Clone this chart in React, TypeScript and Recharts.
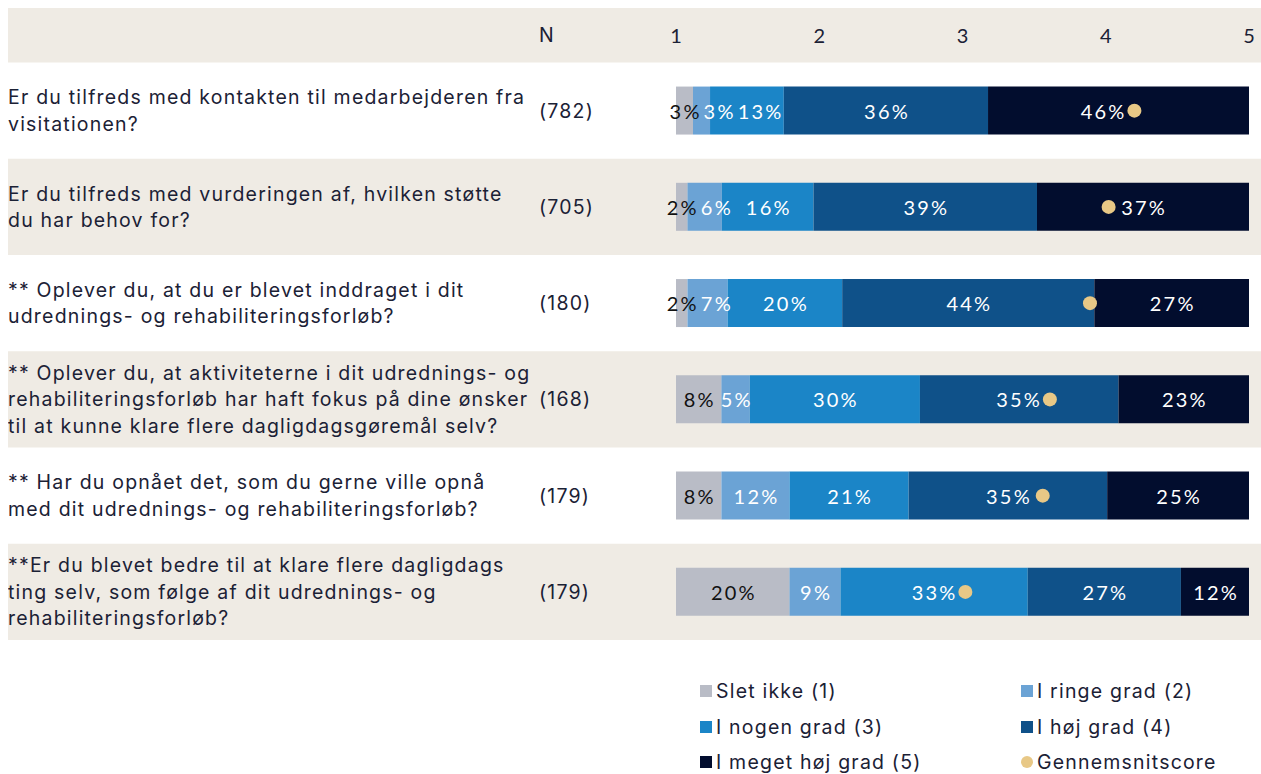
import React, { useLayoutEffect } from 'react';
import { ComposedChart, Bar, Scatter, XAxis, YAxis, Legend, LabelList } from 'recharts';

// ---------- data ----------
const questions = [
  'Er du tilfreds med kontakten til medarbejderen fra\nvisitationen?',
  'Er du tilfreds med vurderingen af, hvilken støtte\ndu har behov for?',
  '** Oplever du, at du er blevet inddraget i dit\nudrednings- og rehabiliteringsforløb?',
  '** Oplever du, at aktiviteterne i dit udrednings- og\nrehabiliteringsforløb har haft fokus på dine ønsker\ntil at kunne klare flere dagligdagsgøremål selv?',
  '** Har du opnået det, som du gerne ville opnå\nmed dit udrednings- og rehabiliteringsforløb?',
  '**Er du blevet bedre til at klare flere dagligdags\nting selv, som følge af dit udrednings- og\nrehabiliteringsforløb?',
];
const respondents = [782, 705, 180, 168, 179, 179];
const sletIkke = [3, 2, 2, 8, 8, 20];
const ringeGrad = [3, 6, 7, 5, 12, 9];
const nogenGrad = [13, 16, 20, 30, 21, 33];
const hoejGrad = [36, 39, 44, 35, 35, 27];
const megetHoejGrad = [46, 37, 27, 23, 25, 12];
const avgScore = [4.2, 4.02, 3.89, 3.61, 3.56, 3.02];
const scoreTicks = [1, 2, 3, 4, 5];
const seriesNames = ['Slet ikke (1)', 'I ringe grad (2)', 'I nogen grad (3)', 'I høj grad (4)', 'I meget høj grad (5)'];
const avgName = 'Gennemsnitscore';
const nHeader = 'N';

// ---------- styling ----------
const seriesKeys = ['s1', 's2', 's3', 's4', 's5'];
const seriesColors = ['#B9BCC6', '#6BA3D5', '#1B85C7', '#0F5189', '#020D2E'];
const labelColors = ['#111111', '#FFFFFF', '#FFFFFF', '#FFFFFF', '#FFFFFF'];
const DOT_COLOR = '#E8C886';
const DOT_R = 7;
const BEIGE = '#EFEBE4';
const TEXT = '#1B2135';
const TEXT_FONT = 'Inter, Roboto, sans-serif';
const TEXT_SIZE = 19.5;
const TEXT_SPACING = 1.2;
const NUM_FONT = 'Lato, sans-serif';
const NUM_SIZE = 20;
const NUM_SPACING = 2.2;

const W = 1253;
const H = 766;
const HEADER_H = 54.5;
const LEGEND_H = 134;
const Y_W = 668;
const MARGIN = { top: 0, right: 12, left: 0, bottom: 0 };
const BAND = (H - HEADER_H - LEGEND_H) / questions.length;
const N_X = 531;
const LINE_H = 26.5;
const SCORE_MIN = scoreTicks[0];
const SCORE_MAX = scoreTicks[scoreTicks.length - 1];

const rows = questions.map((q, i) => ({
  q,
  n: respondents[i],
  s1: sletIkke[i],
  s2: ringeGrad[i],
  s3: nogenGrad[i],
  s4: hoejGrad[i],
  s5: megetHoejGrad[i],
  avg: avgScore[i],
}));

let measureCtx: CanvasRenderingContext2D | null = null;
function textWidth(t: string) {
  if (!measureCtx) measureCtx = document.createElement('canvas').getContext('2d');
  if (!measureCtx) return t.length * 12;
  measureCtx.font = `${NUM_SIZE}px ${NUM_FONT}`;
  return measureCtx.measureText(t).width + NUM_SPACING * t.length;
}

function makeLabel(si: number) {
  return (props: any) => {
    const vb = props.viewBox ?? {};
    const x = Number(vb.x ?? props.x);
    const y = Number(vb.y ?? props.y);
    const w = Number(vb.width ?? props.width);
    const h = Number(vb.height ?? props.height);
    let idx = props.index;
    if (idx == null) idx = rows.findIndex((r) => r === props.payload);
    const row: any = rows[idx];
    if (!row || !isFinite(x) || !isFinite(w)) return null;
    const vals = seriesKeys.map((k) => row[k] as number);
    const total = vals.reduce((a, b) => a + b, 0);
    const v = vals[si];
    if (!v) return null;
    const full = (w * total) / v;
    const before = vals.slice(0, si).reduce((a, b) => a + b, 0);
    const start = x - (before / total) * full;
    const dotX = start + ((row.avg - SCORE_MIN) / (SCORE_MAX - SCORE_MIN)) * full;
    // collision-avoiding label centres: pushed right of previous label, away from the dot
    let cum = 0;
    let prevRight = -Infinity;
    let myCenter = x + w / 2;
    vals.forEach((val, k) => {
      const segStart = start + (cum / total) * full;
      const segW = (val / total) * full;
      cum += val;
      const tw = textWidth(`${val}%`);
      let c = segStart + segW / 2;
      if (c - tw / 2 < prevRight + 2) c = prevRight + 2 + tw / 2;
      if (Math.abs(c - dotX) < tw / 2 + DOT_R + 2) {
        c = c <= dotX ? dotX - DOT_R - 2 - tw / 2 : dotX + DOT_R + 2 + tw / 2;
      }
      prevRight = c + tw / 2;
      if (k === si) myCenter = c;
    });
    return (
      <text
        x={myCenter + NUM_SPACING / 2}
        y={y + h / 2}
        textAnchor="middle"
        dominantBaseline="central"
        fontFamily={NUM_FONT}
        fontSize={NUM_SIZE}
        letterSpacing={NUM_SPACING}
        fill={labelColors[si]}
      >
        {`${v}%`}
      </text>
    );
  };
}

const QuestionTick = (props: any) => {
  const { y, payload } = props;
  const i = questions.indexOf(payload?.value);
  if (i < 0) return null;
  const lines = questions[i].split('\n');
  const startY = y - ((lines.length - 1) * LINE_H) / 2;
  const common = {
    fontFamily: TEXT_FONT,
    fontSize: TEXT_SIZE,
    letterSpacing: TEXT_SPACING,
    fill: TEXT,
    dominantBaseline: 'central' as const,
  };
  return (
    <g>
      <text {...common}>
        {lines.map((l, k) => (
          <tspan key={k} x={0} y={startY + k * LINE_H}>
            {l}
          </tspan>
        ))}
      </text>
      <text x={N_X} y={y} {...common}>
        {`(${respondents[i]})`}
      </text>
      {i === 0 && (
        <text x={N_X} y={y - BAND / 2 - HEADER_H / 2} {...common}>
          {nHeader}
        </text>
      )}
    </g>
  );
};

const BandTick = (props: any) => {
  const { y, payload } = props;
  const i = questions.indexOf(payload?.value);
  if (i < 0) return null;
  return (
    <g>
      {i === 0 && <rect x={0} y={0} width={W} height={y - BAND / 2} fill={BEIGE} />}
      {i % 2 === 1 && <rect x={0} y={y - BAND / 2} width={W} height={BAND} fill={BEIGE} />}
    </g>
  );
};

const ScoreTick = (props: any) => {
  const { x, payload } = props;
  return (
    <text
      x={x}
      y={HEADER_H / 2}
      textAnchor="middle"
      dominantBaseline="central"
      fontFamily={NUM_FONT}
      fontSize={NUM_SIZE}
      fill={TEXT}
    >
      {payload.value}
    </text>
  );
};

const legendItems = [
  ...seriesNames.map((name, k) => ({ name, color: seriesColors[k], circle: false })),
  { name: avgName, color: DOT_COLOR, circle: true },
];

const LegendContent = () => (
  <div style={{ position: 'relative', width: W, height: LEGEND_H }}>
    {legendItems.map((it, k) => {
      const col = k % 2;
      const row = Math.floor(k / 2);
      return (
        <div
          key={it.name}
          style={{
            position: 'absolute',
            left: col ? 1013 : 692,
            top: 51 + row * 35.5 - 13,
            height: 26,
            display: 'flex',
            alignItems: 'center',
            fontFamily: TEXT_FONT,
            fontSize: TEXT_SIZE,
            letterSpacing: TEXT_SPACING,
            color: TEXT,
            whiteSpace: 'nowrap',
          }}
        >
          <span
            style={{
              display: 'inline-block',
              width: 12,
              height: 12,
              background: it.color,
              borderRadius: it.circle ? '50%' : 0,
              marginRight: 4,
            }}
          />
          {it.name}
        </div>
      );
    })}
  </div>
);

const EmptyLegend = () => <div style={{ width: W, height: LEGEND_H }} />;

const Dot = (props: any) => {
  const { cx, cy } = props;
  if (cx == null || cy == null) return null;
  return <circle cx={cx} cy={cy} r={DOT_R} fill={DOT_COLOR} />;
};

const Nothing = () => <g />;

type Mode = 'bg' | 'bars' | 'dots';

function ChartLayer({ mode }: { mode: Mode }) {
  const showBars = mode === 'bars';
  return (
    <ComposedChart
      width={W}
      height={H}
      data={rows}
      layout="vertical"
      stackOffset={showBars ? 'expand' : 'none'}
      margin={MARGIN}
      barCategoryGap="25%"
      style={{ overflow: 'visible' }}
    >
      <XAxis xAxisId="pct" type="number" domain={[0, 'dataMax']} hide />
      <XAxis
        xAxisId="score"
        type="number"
        domain={[SCORE_MIN, SCORE_MAX]}
        ticks={scoreTicks}
        orientation="top"
        height={HEADER_H}
        axisLine={false}
        tickLine={false}
        allowDataOverflow
        tick={mode === 'dots' ? <ScoreTick /> : <Nothing />}
      />
      <YAxis
        type="category"
        dataKey="q"
        width={Y_W}
        axisLine={false}
        tickLine={false}
        interval={0}
        tick={mode === 'bg' ? <BandTick /> : mode === 'bars' ? <QuestionTick /> : <Nothing />}
      />
      {seriesKeys.map((k, si) => (
        <Bar
          key={k}
          dataKey={k}
          name={seriesNames[si]}
          xAxisId="pct"
          stackId="a"
          fill={seriesColors[si]}
          fillOpacity={showBars ? 1 : 0}
          isAnimationActive={false}
        >
          {showBars && <LabelList dataKey={k} content={makeLabel(si)} />}
        </Bar>
      ))}
      <Scatter
        dataKey="avg"
        name={avgName}
        xAxisId="score"
        fill={DOT_COLOR}
        isAnimationActive={false}
        shape={mode === 'dots' ? <Dot /> : <Nothing />}
      />
      <Legend
        verticalAlign="bottom"
        wrapperStyle={{ left: 0, width: W }}
        content={showBars ? <LegendContent /> : <EmptyLegend />}
      />
    </ComposedChart>
  );
}

export default function App() {
  useLayoutEffect(() => {
    document.documentElement.style.overflow = 'hidden';
    document.body.style.margin = '8px 0 0 8px';
  }, []);
  return (
    <div style={{ position: 'relative', width: W, height: H }}>
      <div style={{ position: 'absolute', left: 0, top: 0 }}>
        <ChartLayer mode="bg" />
      </div>
      <div style={{ position: 'absolute', left: 0, top: 0 }}>
        <ChartLayer mode="bars" />
      </div>
      <div style={{ position: 'absolute', left: 0, top: 0 }}>
        <ChartLayer mode="dots" />
      </div>
    </div>
  );
}
